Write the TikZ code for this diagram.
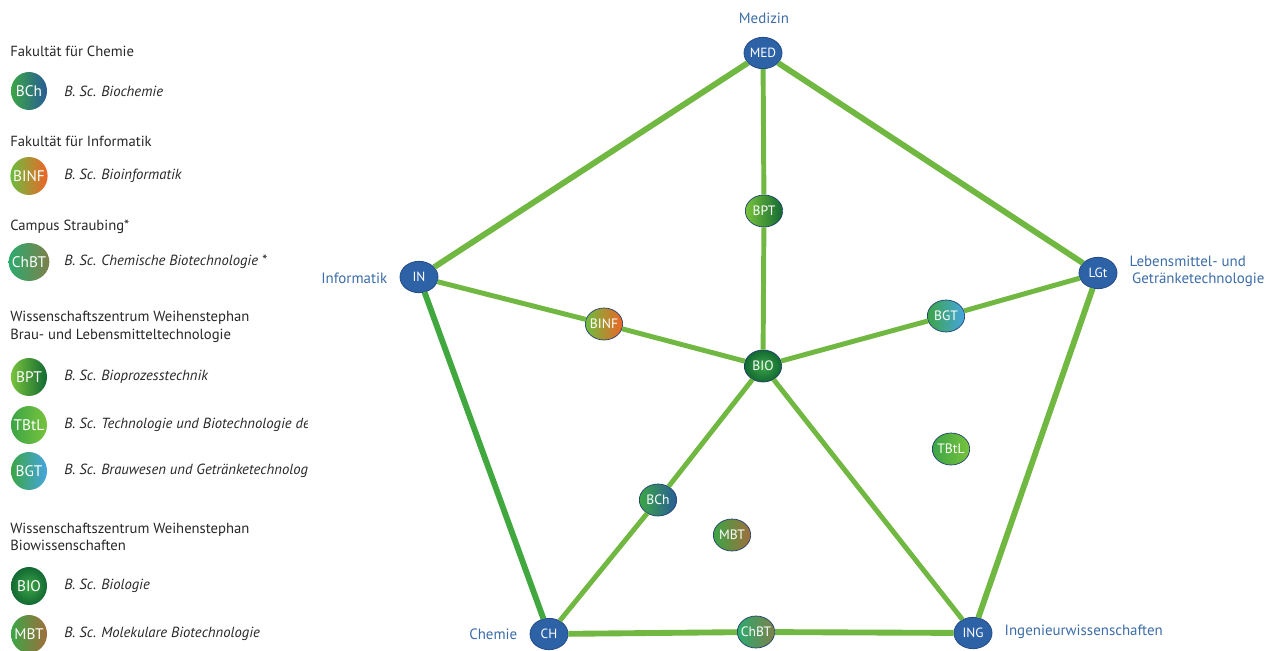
\documentclass[tikz,border=0pt]{standalone}
\usepackage{fontspec}
\setmainfont{PT Sans}
\usetikzlibrary{shapes.geometric}
\definecolor{edgegreen}{RGB}{112,184,66}
\definecolor{edgedark}{RGB}{64,168,62}
\definecolor{hubblue}{RGB}{45,98,166}
\definecolor{hubborder}{RGB}{35,75,135}
\definecolor{lblblue}{RGB}{60,109,168}
\definecolor{txtgray}{RGB}{40,40,40}
\definecolor{gA}{RGB}{60,165,70}
\definecolor{gLight}{RGB}{120,195,60}
\definecolor{gDark}{RGB}{18,105,50}
\definecolor{cBlue}{RGB}{40,92,150}
\definecolor{cOrange}{RGB}{238,100,38}
\definecolor{cBrown}{RGB}{160,110,60}
\definecolor{cSky}{RGB}{70,165,225}
\definecolor{cTeal}{RGB}{45,170,110}
\tikzset{
  hub/.style={ellipse, fill=hubblue, draw=hubborder, line width=0.6pt, minimum width=28.5pt, minimum height=23.5pt, inner sep=0pt, text=white, font=\fontsize{10}{11}\selectfont},
  prog/.style={ellipse, draw=hubborder!80!black, line width=0.5pt, minimum width=28pt, minimum height=24pt, inner xsep=-2.5pt, inner ysep=0pt, text=white, font=\fontsize{10.2}{11}\selectfont},
  legc/.style={ellipse, minimum width=27pt, minimum height=28.5pt, inner xsep=-2pt, inner ysep=0pt, text=white, font=\fontsize{11.5}{13}\selectfont},
  outer/.style={draw=edgegreen, line width=4.4pt},
  inner/.style={draw=edgegreen, line width=3.7pt},
  area/.style={text=lblblue, font=\fontsize{11.2}{13}\selectfont},
  head/.style={anchor=west, inner sep=0pt, text=txtgray, font=\fontsize{11}{13}\selectfont, align=left},
  item/.style={anchor=west, inner sep=0pt, text=txtgray, font=\fontsize{11}{13}\selectfont\itshape},
  sBCh/.style={left color=gA, right color=cBlue},
  sBINF/.style={left color=gLight!80!gA, right color=cOrange},
  sChBT/.style={left color=cTeal, right color=cBrown!70!cTeal},
  sBPT/.style={left color=gLight, right color=gDark},
  sTBtL/.style={left color=gA, right color=gLight},
  sBGT/.style={left color=gA, right color=cSky},
  sBIO/.style={inner color=gA, outer color=gDark},
  sMBT/.style={left color=gA, right color=cBrown},
}
\begin{document}
\begin{tikzpicture}[x=0.75pt, y=-0.75pt]
\useasboundingbox (0,0) rectangle (1274,650);
\fill[white] (0,0) rectangle (1274,650);

% hubs
\node[hub] (MED) at (763,53) {MED};
\node[hub] (IN)  at (419,277) {IN};
\node[hub] (LGt) at (1098,273) {LGt};
\node[hub] (CH)  at (549,634) {CH};
\node[hub] (ING) at (973,633) {ING};

% programmes
\node[prog, sBIO]  (BIO)  at (763,366) {BIO};
\node[prog, sBPT]  (BPT)  at (764,211) {BPT};
\node[prog, sBINF] (BINF) at (604,324) {BINF};
\node[prog, sBGT]  (BGT)  at (946,316) {BGT};
\node[prog, sTBtL] (TBtL) at (951,449) {TBtL};
\node[prog, sBCh]  (BCh)  at (658,500) {BCh};
\node[prog, sMBT]  (MBT)  at (732,535) {MBT};
\node[prog, sChBT] (ChBT) at (756,632) {ChBT};

% edges
\draw[outer] (MED) -- (IN);
\draw[outer] (MED) -- (LGt);
\draw[outer, draw=edgedark] (IN) -- (CH);
\draw[outer] (LGt) -- (ING);
\draw[outer] (CH) -- (ChBT);
\draw[outer] (ChBT) -- (ING);
\draw[inner] (MED) -- (BPT);
\draw[inner] (BPT) -- (BIO);
\draw[inner] (IN) -- (BINF);
\draw[inner] (BINF) -- (BIO);
\draw[inner] (LGt) -- (BGT);
\draw[inner] (BGT) -- (BIO);
\draw[inner] (BIO) -- (BCh);
\draw[inner] (BCh) -- (CH);
\draw[inner] (BIO) -- (ING);

% area labels
\node[area] (lMED) at (764,18) {Medizin};
\node[area, anchor=east] (lIN) at (392,278) {Informatik};
\node[area, anchor=west, align=left] (lLGt) at (1125,271) {Lebensmittel- und\\\,Getränketechnologie};
\node[area, anchor=east] (lCH) at (522,634) {Chemie};
\node[area, anchor=west] (lING) at (1000,632) {Ingenieurwissenschaften};

% legend
\node[head] (h1) at (10,51) {Fakultät für Chemie};
\node[legc, sBCh] (gBCh) at (29,91) {BCh};
\node[item] (iBCh) at (64,91) {B. Sc. Biochemie};

\node[head] (h2) at (10,141) {Fakultät für Informatik};
\node[legc, sBINF] (gBINF) at (29,176) {BINF};
\node[item] (iBINF) at (64,176) {B. Sc. Bioinformatik};

\node[head] (h3) at (10,227) {Campus Straubing*};
\node[legc, sChBT] (gChBT) at (29,262) {ChBT};
\node[item] (iChBT) at (64,262) {B. Sc. Chemische Biotechnologie *};

\node[head] (h4) at (10,327) {Wissenschaftszentrum Weihenstephan\\Brau- und Lebensmitteltechnologie};
\node[legc, sBPT] (gBPT) at (29,377) {BPT};
\node[item] (iBPT) at (64,377) {B. Sc. Bioprozesstechnik};
\node[legc, sTBtL] (gTBtL) at (29,425) {TBtL};
\node[legc, sBGT] (gBGT) at (29,471) {BGT};
\begin{scope}
\clip (50,400) rectangle (307,495);
\node[item] (iTBtL) at (64,425) {B. Sc. Technologie und Biotechnologie der Lebensmittel};
\node[item] (iBGT) at (64,471) {B. Sc. Brauwesen und Getränketechnologie};
\end{scope}

\node[head] (h5) at (10,537) {Wissenschaftszentrum Weihenstephan\\Biowissenschaften};
\node[legc, sBIO] (gBIO) at (29,586) {BIO};
\node[item] (iBIO) at (64,586) {B. Sc. Biologie};
\node[legc, sMBT] (gMBT) at (29,634) {MBT};
\node[item] (iMBT) at (64,634) {B. Sc. Molekulare Biotechnologie};
\end{tikzpicture}
\end{document}
